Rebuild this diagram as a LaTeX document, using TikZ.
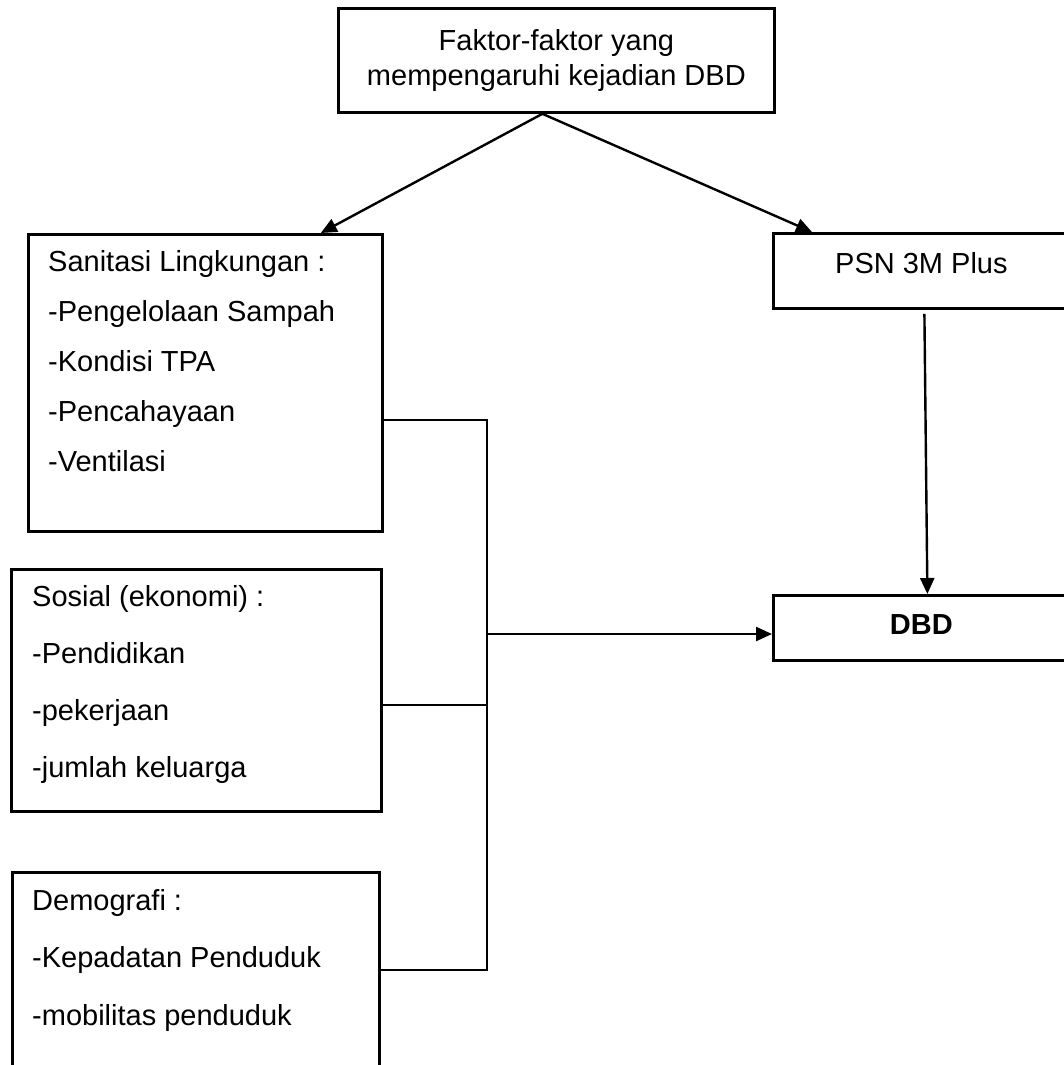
\documentclass[tikz,border=0pt]{standalone}
\usepackage{fontspec}
\setmainfont{Liberation Sans}
\usetikzlibrary{arrows.meta, positioning}

\begin{document}
\begin{tikzpicture}[x=1pt, y=-1pt, font=\fontsize{29}{35}\selectfont]
	\tikzstyle{box}=[draw, line width=2.8pt, inner sep=0pt, anchor=north west]
	\tikzstyle{items}=[inner sep=0pt, anchor=north west, align=left]
	\tikzstyle{arrow}=[line width=2.4pt, -{Triangle[length=16pt,width=14pt]}]
	\tikzstyle{bus}=[line width=1.6pt]
	
	\useasboundingbox (0,0) rectangle (1064,1065);
	
	\node[box, minimum width=436pt, minimum height=104pt, align=center](faktor) at (337,7){Faktor-faktor yang\\mempengaruhi kejadian DBD};
	
	\node[box, minimum width=354pt, minimum height=297pt](sanitasi) at (27,233){};
	\node[items, font=\fontsize{29}{50}\selectfont](sanitasi-list) at ([shift={(21,17)}]sanitasi.north west){Sanitasi Lingkungan :\\-Pengelolaan Sampah\\-Kondisi TPA\\-Pencahayaan\\-Ventilasi};
	
	\node[box, minimum width=370pt, minimum height=242pt](sosial) at (10,568){};
	\node[items, font=\fontsize{29}{57}\selectfont](sosial-list) at ([shift={(22,17.5)}]sosial.north west){Sosial (ekonomi) :\\-Pendidikan\\-pekerjaan\\-jumlah keluarga};
	
	\node[box, minimum width=367pt, minimum height=240pt](demografi) at (11,871){};
	\node[items, font=\fontsize{29}{57.5}\selectfont](demografi-list) at ([shift={(21,18)}]demografi.north west){Demografi :\\-Kepadatan Penduduk\\-mobilitas penduduk};
	
	\node[box, minimum width=296pt, minimum height=75pt, text height=21pt, text depth=16pt](psn) at (772,232){PSN 3M Plus};
	\node[box, minimum width=296pt, minimum height=65pt, text height=21pt, text depth=8pt, font=\fontsize{29}{35}\selectfont\bfseries](dbd) at (772,594){DBD};
	
	\coordinate (bustop) at (487,420);
	\coordinate (busbottom) at (487,970);
	\coordinate (busout) at (487,634);
	\coordinate (sosialin) at (487,705);
	
	\draw[arrow] ([xshift=-14pt]faktor.south) -- ([xshift=-63pt]sanitasi.north east);
	\draw[arrow] ([xshift=-14pt]faktor.south) -- ([xshift=40pt]psn.north west);
	\draw[arrow] ([xshift=3pt, yshift=-4pt]psn.south) -- ([xshift=6pt]dbd.north);
	
	\draw[bus] (sanitasi.east |- bustop) -- (bustop) -- (busbottom) -- (demografi.east |- busbottom);
	\draw[bus] (sosial.east |- sosialin) -- (sosialin);
	\draw[arrow] (busout) -- (busout -| dbd.west);
\end{tikzpicture}
\end{document}
